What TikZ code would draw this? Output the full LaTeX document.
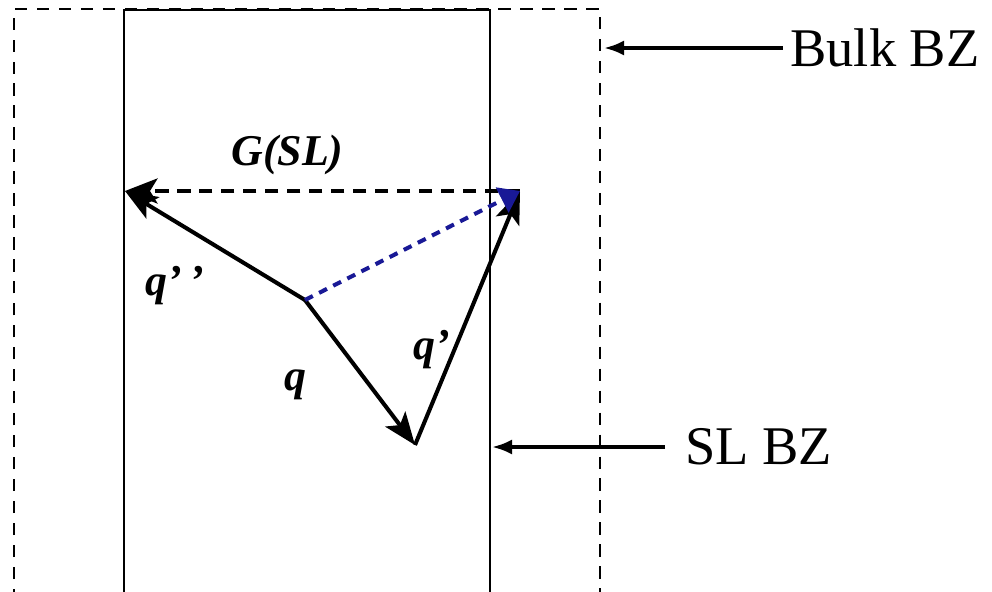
\documentclass[tikz,border=0pt]{standalone}
\usepackage{fontspec}
\setmainfont{Liberation Serif}
\usetikzlibrary{arrows.meta}
\definecolor{dashblue}{RGB}{25,25,150}
\tikzset{
  bzline/.style   = {line width=1.4pt},
  bulkline/.style = {line width=1.3pt, dash pattern=on 7pt off 5.5pt},
  vec/.style      = {-{Stealth[length=6.5mm,width=5mm,inset=1.5mm]}, line width=2.3pt},
  gvec/.style     = {vec, dash pattern=on 7.5pt off 5pt},
  bluevec/.style  = {-{Triangle[length=4mm,width=5.5mm]}, line width=2.3pt, dashblue, dash pattern=on 5pt off 4pt},
  pointer/.style  = {-{Latex[length=4mm,width=3mm]}, line width=2pt},
  bzlabel/.style  = {font=\fontsize{31}{34}\selectfont, inner sep=0pt},
  qlabel/.style   = {font=\fontsize{25}{27}\selectfont\bfseries\itshape, inner sep=0pt}
}
\begin{document}
\begin{tikzpicture}
  \clip (0,0) rectangle (19.84,11.82);
  % zones
  \draw[bulkline] (0.28,-0.2) |- (12.0,11.64) -- (12.0,-0.2);
  \draw[bzline] (2.48,-0.2) |- (9.8,11.62) -- (9.8,-0.2);

  \coordinate (o)   at (6.1,5.82);
  \coordinate (k)   at (8.3,2.92);
  \coordinate (kp)  at (10.4,8.0);
  \coordinate (kpp) at (2.5,8.0);

  \draw[vec] (o) -- (k);
  \draw[vec] (k) -- (kp);
  \draw[vec] (o) -- (kpp);
  \draw[gvec] (kp) -- (kpp);
  \draw[bluevec] (o) -- (kp);

  \node[qlabel] (lg)   at (5.75,8.72) {G(SL)};
  \node[qlabel] (lqpp) at (3.5,6.1)  {q’\,’};
  \node[qlabel] (lq)   at (5.9,4.12) {q};
  \node[qlabel] (lqp)  at (8.64,4.82) {q’};

  % labels of the two zones
  \node[bzlabel, anchor=west] (bulk) at (15.8,10.86) {Bulk BZ};
  \node[bzlabel, anchor=west] (sl)   at (13.7,2.88)  {SL BZ};
  \coordinate (bulkedge) at (12.08,10.86);
  \coordinate (sledge)   at (9.84,2.88);
  \draw[pointer, shorten <=0.15cm] (bulk.west) -- (bulkedge);
  \draw[pointer, shorten <=0.4cm] (sl.west) -- (sledge);
\end{tikzpicture}
\end{document}
